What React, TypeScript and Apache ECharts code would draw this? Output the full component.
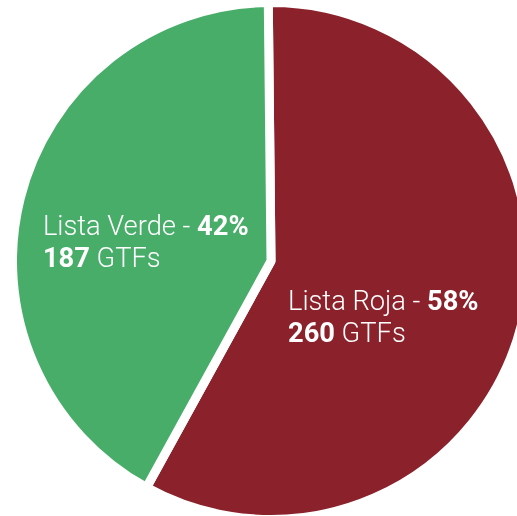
import React, { useEffect, useRef } from 'react';
import * as echarts from 'echarts';

const categories = ['Lista Roja', 'Lista Verde'];
const values = [260, 187];
const unitLabel = 'GTFs';
const sliceColors = ['#8b222b', '#47ad69'];

export default function App() {
  const ref = useRef<HTMLDivElement>(null);
  useEffect(() => {
    const chart = echarts.init(ref.current!, null, { renderer: 'svg' });
    const paddings = [
      [48, 32, 0, 0],
      [26, 0, 0, 6],
    ];
    const base = {
      color: '#ffffff',
      fontFamily: 'Roboto',
      fontSize: 27.3,
      lineHeight: 32,
      align: 'left',
    };
    chart.setOption({
      animation: false,
      series: [
        {
          type: 'pie',
          center: [271, 261],
          radius: [0, 258.5],
          startAngle: 90.6,
          clockwise: true,
          silent: true,
          itemStyle: { borderColor: '#ffffff', borderWidth: 9 },
          labelLine: { show: false },
          label: {
            show: true,
            position: 'inside',
            color: '#ffffff',
            fontFamily: 'Roboto',
            fontSize: 27.3,
            lineHeight: 32,
            formatter: (p: any) =>
              `{n|${p.name} - }{b|${Math.round(p.percent)}%}\n{b|${p.value}}{n| ${unitLabel}}`,
            rich: {
              n: { ...base, fontWeight: 300 },
              b: { ...base, fontWeight: 'bold' },
            },
          },
          data: categories.map((c, i) => ({
            name: c,
            value: values[i],
            itemStyle: { color: sliceColors[i] },
            label: { padding: paddings[i] },
          })),
        },
      ],
    });
    return () => chart.dispose();
  }, []);
  return (
    <div
      ref={ref}
      style={{ position: 'fixed', left: 0, top: 0, width: 517, height: 516 }}
    />
  );
}
